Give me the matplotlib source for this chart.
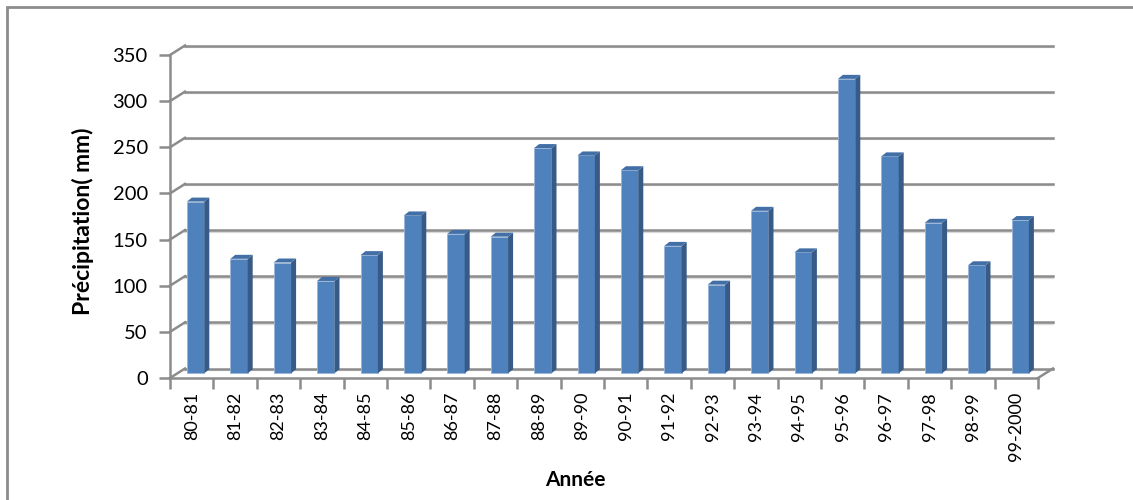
import numpy as np
import matplotlib.pyplot as plt
from matplotlib.patches import Polygon, Rectangle

seasons = ["80-81", "81-82", "82-83", "83-84", "84-85", "85-86", "86-87",
           "87-88", "88-89", "89-90", "90-91", "91-92", "92-93", "93-94",
           "94-95", "95-96", "96-97", "97-98", "98-99", "99-2000"]
precip = [186, 124, 120, 100, 128, 171, 151, 148, 244, 236, 220, 138,
          96, 176, 131, 319, 235, 163, 117, 166]
y_ticks = [0, 50, 100, 150, 200, 250, 300, 350]

W, H = 1133, 500
GRID = "#8c8c8c"
FRONT = "#4f81bd"
SIDE = "#375a86"
TOP = "#426fa6"

plt.rcParams["font.family"] = ["Lato", "DejaVu Sans"]

fig = plt.figure(figsize=(W / 100, H / 100), dpi=100)
ax = fig.add_axes([170 / W, 122 / H, 868 / W, 323 / H])
n = len(seasons)
ax.set_xlim(0, n)
ax.set_ylim(0, 350)

# depth of the back wall and of each bar, in data units
cat_px = 868 / n
val_px = 323 / 350
DX, DY = 15 / cat_px, 9.5 / val_px
BX, BY = 5 / cat_px, 4 / val_px

# back wall gridlines + left wall diagonals
for v in y_ticks:
    ax.plot([DX, n + DX], [v + DY - 1.6, v + DY - 1.6], color="#dadada",
            lw=1.6, clip_on=False, zorder=1)
    ax.plot([DX, n + DX], [v + DY, v + DY], color=GRID, lw=1.8,
            clip_on=False, zorder=1)
    ax.plot([0, DX], [v, v + DY], color=GRID, lw=1.8, clip_on=False, zorder=1)
ax.plot([n, n + DX], [0, DY], color=GRID, lw=1.8, clip_on=False, zorder=1)

# bars: front face, side face, top
w = 0.4
x = np.arange(n) + 0.39 + w / 2
b = DY / 2
ax.bar(x, precip, width=w, bottom=b, color=FRONT, edgecolor="#9bb5d8",
       linewidth=0.6, zorder=3)
for xi, h in zip(x, precip):
    l, r, t = xi - w / 2, xi + w / 2, b + h
    ax.add_patch(Polygon([(r, b), (r + BX, b + BY), (r + BX, t + BY), (r, t)],
                         closed=True, fc=SIDE, ec="none", zorder=3))
    ax.add_patch(Polygon([(l, t), (l + BX, t + BY), (r + BX, t + BY), (r, t)],
                         closed=True, fc=TOP, ec="none", zorder=3))

for s in ["top", "right"]:
    ax.spines[s].set_visible(False)
for s in ["left", "bottom"]:
    ax.spines[s].set_color(GRID)
    ax.spines[s].set_linewidth(1.8)
    ax.spines[s].set_zorder(2)
ax.patch.set_visible(False)

ax.set_yticks(y_ticks)
ax.tick_params(axis="y", length=8, width=1.8, color=GRID, labelsize=14.5,
               pad=8)
ax.set_xticks(np.arange(n + 1))
ax.set_xticklabels([])
ax.tick_params(axis="x", which="major", length=8, width=1.8, color=GRID)
ax.set_xticks(np.arange(n) + 0.5, minor=True)
ax.set_xticklabels(seasons, minor=True, rotation=90, fontsize=13)
ax.tick_params(axis="x", which="minor", length=0, pad=10)

ax.set_ylabel("Précipitation( mm)", fontsize=16.5, fontweight="bold",
              va="center")
ax.yaxis.set_label_coords(-0.1, 0.486)
ax.set_xlabel("Année", fontsize=15, fontweight="bold", va="center")
ax.xaxis.set_label_coords(0.467, -0.316)

# chart area border
fig.patches.append(Rectangle((7 / W, -0.1), 1.2, 1.1 - 7.5 / H,
                             transform=fig.transFigure, fill=False,
                             ec="#8c8c8c", lw=2))

fig.savefig("out.png", dpi=100)
